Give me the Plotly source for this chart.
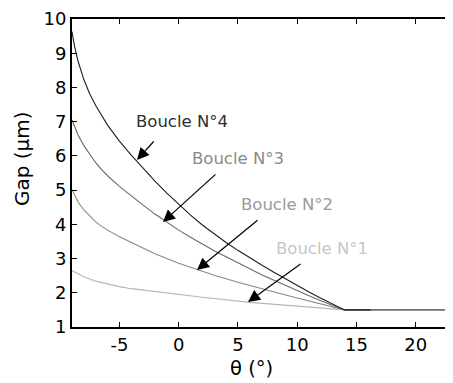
import plotly.graph_objects as go

# Curve data (theta in degrees, gap in µm)
x4 = [-9.0, -8.8, -8.5, -8.0, -7.5, -7.0, -6.0, -5.0, -4.0, -3.0, -2.0, -1.0, 0.0, 1.0, 2.0, 3.0, 4.0,
      5.0, 6.0, 7.0, 8.0, 9.0, 10.0, 11.0, 12.0, 13.0, 14.0, 16.2]
y4 = [9.63, 9.23, 8.78, 8.23, 7.81, 7.47, 6.90, 6.43, 6.02, 5.63, 5.26, 4.91, 4.58, 4.27, 3.98, 3.72, 3.47,
      3.24, 3.02, 2.81, 2.61, 2.41, 2.22, 2.02, 1.84, 1.67, 1.50, 1.50]

x3 = [-9.0, -8.75, -8.5, -8.0, -7.5, -7.0, -6.5, -6.0, -5.0, -4.0, -3.0, -2.0, -1.0, 0.0, 1.0, 2.0, 3.0,
      4.0, 5.0, 6.0, 7.0, 8.0, 9.0, 10.0, 11.0, 12.0, 13.0, 14.0, 23.2]
y3 = [7.05, 6.82, 6.62, 6.30, 6.03, 5.80, 5.60, 5.42, 5.11, 4.83, 4.56, 4.30, 4.06, 3.83, 3.62, 3.42, 3.23,
      3.05, 2.87, 2.70, 2.53, 2.37, 2.21, 2.06, 1.91, 1.77, 1.63, 1.50, 1.50]

x2 = [-9.0, -8.75, -8.5, -8.0, -7.5, -7.0, -6.5, -6.0, -5.0, -3.5, -2.0, 0.0, 1.65, 3.0, 5.0, 6.85, 8.0,
      10.0, 12.0, 14.0, 23.2]
y2 = [5.02, 4.82, 4.66, 4.42, 4.23, 4.07, 3.94, 3.83, 3.64, 3.38, 3.14, 2.86, 2.66, 2.51, 2.31, 2.13, 2.03,
      1.85, 1.67, 1.50, 1.50]

x1 = [-9.0, -8.5, -8.0, -7.0, -6.0, -5.0, -4.0, -2.0, 0.0, 2.0, 6.0, 10.0, 14.0, 23.2]
y1 = [2.65, 2.55, 2.47, 2.34, 2.25, 2.18, 2.12, 2.03, 1.95, 1.87, 1.72, 1.60, 1.50, 1.50]

labels = ["Boucle N°4", "Boucle N°3", "Boucle N°2", "Boucle N°1"]
x_ticks = [-5, 0, 5, 10, 15, 20]
y_ticks = [1, 2, 3, 4, 5, 6, 7, 8, 9, 10]

line_colors = ["#1e1e1e", "#6a6a6a", "#888888", "#b6b6b6"]
text_colors = ["#2e2e2e", "#8a8a8a", "#9a9a9a", "#c6c6c6"]
FONT = "DejaVu Sans, Verdana, sans-serif"

XR = [-9, 23.15]
YR = [1, 10]
OFF = 8                      # page body margin
PL, PT, PB, PR = 72, 19, 327, 453   # plot box in page pixels
W, H = 453 - OFF, 383 - OFF

def dx(px):
    return XR[0] + (px - PL) / (PR - PL) * (XR[1] - XR[0])

def dy(py):
    return YR[0] + (PB - py) / (PB - PT) * (YR[1] - YR[0])

def paperx(px):
    return (px - PL) / (PR - PL)

def papery(py):
    return (PB - py) / (PB - PT)

fig = go.Figure()
for xs, ys, c in [(x1, y1, line_colors[3]), (x2, y2, line_colors[2]),
                  (x3, y3, line_colors[1]), (x4, y4, line_colors[0])]:
    fig.add_trace(go.Scatter(x=xs, y=ys, mode="lines", line=dict(color=c, width=1.1),
                             showlegend=False, hoverinfo="skip"))

label_px = [(182, 121), (238, 158), (287, 204), (321.5, 248)]
arrow_px = [((155, 140), (137, 160)), ((217, 173), (163, 222)),
            ((259, 219), (197, 270)), ((302, 263), (248, 302))]

ann = []
for i, lab in enumerate(labels):
    px, py = label_px[i]
    ann.append(dict(x=dx(px), y=dy(py), xref="x", yref="y", text=lab, showarrow=False,
                    font=dict(family=FONT, size=16.5, color=text_colors[i]),
                    xanchor="center", yanchor="middle"))
    (tx, ty), (hx, hy) = arrow_px[i]
    ann.append(dict(x=dx(hx), y=dy(hy), xref="x", yref="y", ax=dx(tx), ay=dy(ty), axref="x", ayref="y",
                    text="", showarrow=True, arrowhead=2, arrowsize=2.0, arrowwidth=1.2, arrowcolor="#000000",
                    standoff=0, startstandoff=0))

ann.append(dict(x=paperx(251.5), y=papery(369), xref="paper", yref="paper", text="θ (°)", showarrow=False,
                font=dict(family=FONT, size=19.5, color="#000"), xanchor="center", yanchor="middle"))
ann.append(dict(x=paperx(22), y=papery(159), xref="paper", yref="paper", text="Gap (µm)", showarrow=False,
                textangle=-90, font=dict(family=FONT, size=20, color="#000"),
                xanchor="center", yanchor="middle"))

fig.update_layout(
    width=W, height=H,
    margin=dict(l=PL - OFF, r=0, t=PT - OFF, b=H - (PB - OFF), pad=0),
    paper_bgcolor="white", plot_bgcolor="white",
    annotations=ann,
    font=dict(family=FONT, size=18, color="#000"),
)
fig.update_xaxes(range=XR, tickvals=x_ticks, ticktext=[str(v) for v in x_ticks], showgrid=False, zeroline=False,
                 showline=True, linecolor="#000", linewidth=2, mirror="ticks", ticks="inside", ticklen=5,
                 tickwidth=1, tickcolor="#000", tickfont=dict(family=FONT, size=18))
fig.update_yaxes(range=YR, tickvals=y_ticks, ticktext=[str(v) for v in y_ticks], showgrid=False, zeroline=False,
                 showline=True, linecolor="#000", linewidth=2, ticks="inside", ticklen=5,
                 tickwidth=1, tickcolor="#000", tickfont=dict(family=FONT, size=18))

fig.write_html("out.html")
